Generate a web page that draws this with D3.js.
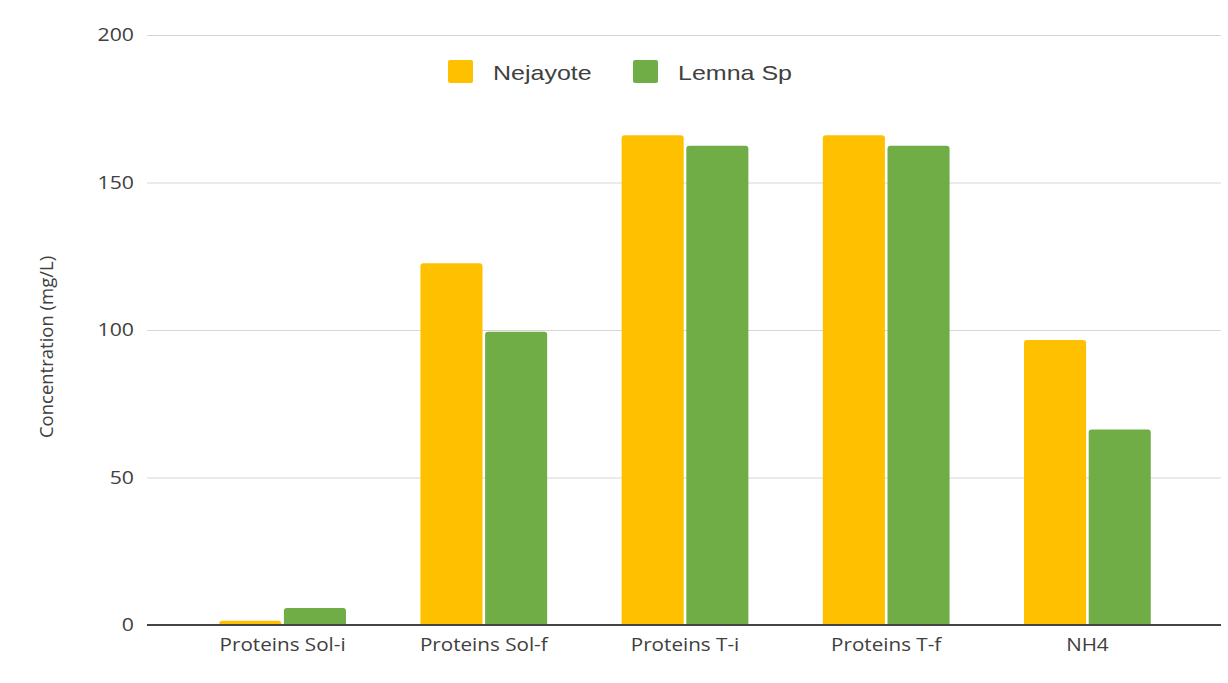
<!DOCTYPE html>
<html>
<head>
<meta charset="utf-8">
<script src="https://cdn.jsdelivr.net/npm/d3@7/dist/d3.min.js"></script>
<style>
  html, body { margin: 0; padding: 0; background: #ffffff; }
  svg { display: block; }
</style>
</head>
<body>
<svg id="chart" width="1228" height="683"></svg>
<script>
// Measured concentrations (mg/L) per parameter
const categories = ["Proteins Sol-i", "Proteins Sol-f", "Proteins T-i", "Proteins T-f", "NH4"];
const seriesNames = ["Nejayote", "Lemna Sp"];
const nejayote = [1.4, 122.6, 166, 166, 96.6];
const lemna = [5.8, 99.4, 162.5, 162.5, 66.3];
const yTicks = [0, 50, 100, 150, 200];
const colors = ["#ffc000", "#70ad47"];

const svg = d3.select("#chart");
const gridLeft = 147, gridRight = 1221;
const bandLeft = 182, bandRight = 1188;
const yTop = 35, yBottom = 625;
const stretch = 1.18;               // horizontal text widening
const labelFont = "'Open Sans', sans-serif";
const textColor = "#404040";

const y = d3.scaleLinear().domain([0, 200]).range([yBottom, yTop]);
const x = d3.scaleBand().domain(categories).range([bandLeft, bandRight]).paddingInner(0.37).paddingOuter(0.185);
const xs = d3.scaleBand().domain(seriesNames).range([0, x.bandwidth()]).paddingInner(0.04);

// Horizontal gridlines and value labels
const yAxis = d3.axisLeft(y).tickValues(yTicks).tickSize(-(gridRight - gridLeft));
const gy = svg.append("g").attr("transform", `translate(${gridLeft},0)`).call(yAxis);
gy.select(".domain").remove();
gy.selectAll(".tick line").attr("stroke", "#d6d6d6").attr("stroke-width", 1);
gy.selectAll(".tick text")
  .attr("x", -13 / stretch)
  .attr("transform", `scale(${stretch},1)`)
  .attr("fill", textColor)
  .style("font-family", labelFont)
  .style("font-size", "18px");

// Bars with slightly rounded tops
const data = categories.map((c, i) => ({ c, vals: [nejayote[i], lemna[i]] }));
function topRounded(x0, y0, w, h, r) {
  r = Math.min(r, h, w / 2);
  return `M${x0},${y0 + h}V${y0 + r}Q${x0},${y0} ${x0 + r},${y0}H${x0 + w - r}Q${x0 + w},${y0} ${x0 + w},${y0 + r}V${y0 + h}Z`;
}
const groups = svg.append("g").selectAll("g").data(data).join("g")
  .attr("transform", d => `translate(${x(d.c)},0)`);
groups.selectAll("path").data(d => d.vals.map((v, k) => ({ v, k }))).join("path")
  .attr("d", d => topRounded(xs(seriesNames[d.k]), y(d.v), xs.bandwidth(), y(0) - y(d.v), 3))
  .attr("fill", d => colors[d.k]);

// Baseline
svg.append("line")
  .attr("x1", gridLeft).attr("x2", gridRight)
  .attr("y1", y(0)).attr("y2", y(0))
  .attr("stroke", "#444444").attr("stroke-width", 2);

// Category labels
const xAxis = d3.axisBottom(x).tickSize(0).tickPadding(14);
const gx = svg.append("g").attr("transform", `translate(0,${y(0)})`).call(xAxis);
gx.select(".domain").remove();
gx.selectAll(".tick text")
  .attr("transform", `scale(${stretch},1)`)
  .attr("fill", textColor)
  .style("font-family", labelFont)
  .style("font-size", "17.5px");

// Y axis title
svg.append("text")
  .attr("transform", `translate(53,${(yTop + yBottom) / 2 + 17}) rotate(-90)`)
  .attr("text-anchor", "middle")
  .attr("fill", textColor)
  .style("font-family", labelFont)
  .style("font-size", "18.5px")
  .text("Concentration (mg/L)");

// Legend
const legend = svg.append("g");
const legendX = [448, 633];
seriesNames.forEach((name, i) => {
  legend.append("rect")
    .attr("x", legendX[i]).attr("y", 60).attr("width", 25).attr("height", 23)
    .attr("rx", 2).attr("fill", colors[i]);
  legend.append("text")
    .attr("transform", `translate(${legendX[i] + 45},80) scale(${stretch + 0.04},1)`)
    .attr("fill", textColor)
    .style("font-family", "'Liberation Sans', Arial, sans-serif")
    .style("font-size", "20.5px")
    .text(name);
});
</script>
</body>
</html>
